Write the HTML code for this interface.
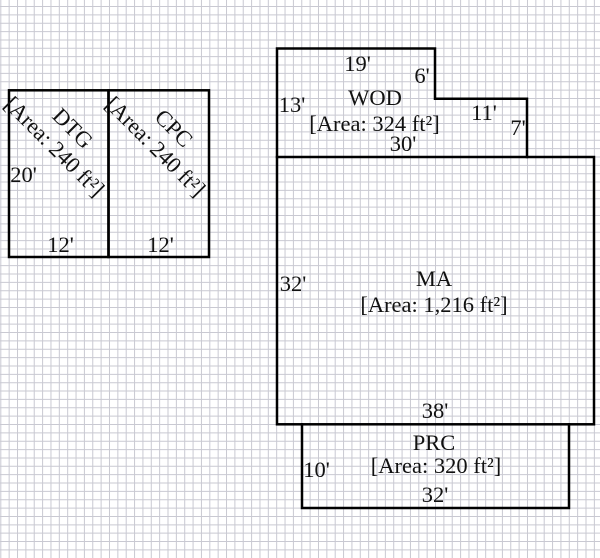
<!DOCTYPE html>
<html><head><meta charset="utf-8"><style>
html,body{margin:0;padding:0;background:#fff;}
svg{display:block;}
text{font-family:"Liberation Serif","DejaVu Serif",serif;font-size:22.5px;fill:#111;}
</style></head><body>
<svg width="600" height="558" viewBox="0 0 600 558" xmlns="http://www.w3.org/2000/svg">
<rect width="600" height="558" fill="#fff"/>
<path fill="none" stroke="#c9c9d2" stroke-width="1" d="M0.8 0V558M9.16 0V558M17.52 0V558M25.88 0V558M34.24 0V558M42.6 0V558M50.96 0V558M59.32 0V558M67.68 0V558M76.04 0V558M84.4 0V558M92.76 0V558M101.12 0V558M109.48 0V558M117.84 0V558M126.2 0V558M134.56 0V558M142.92 0V558M151.28 0V558M159.64 0V558M168 0V558M176.36 0V558M184.72 0V558M193.08 0V558M201.44 0V558M209.8 0V558M218.16 0V558M226.52 0V558M234.88 0V558M243.24 0V558M251.6 0V558M259.96 0V558M268.32 0V558M276.68 0V558M285.04 0V558M293.4 0V558M301.76 0V558M310.12 0V558M318.48 0V558M326.84 0V558M335.2 0V558M343.56 0V558M351.92 0V558M360.28 0V558M368.64 0V558M377 0V558M385.36 0V558M393.72 0V558M402.08 0V558M410.44 0V558M418.8 0V558M427.16 0V558M435.52 0V558M443.88 0V558M452.24 0V558M460.6 0V558M468.96 0V558M477.32 0V558M485.68 0V558M494.04 0V558M502.4 0V558M510.76 0V558M519.12 0V558M527.48 0V558M535.84 0V558M544.2 0V558M552.56 0V558M560.92 0V558M569.28 0V558M577.64 0V558M586 0V558M594.36 0V558
M0 6.5H600M0 14.86H600M0 23.22H600M0 31.58H600M0 39.94H600M0 48.3H600M0 56.66H600M0 65.02H600M0 73.38H600M0 81.74H600M0 90.1H600M0 98.46H600M0 106.82H600M0 115.18H600M0 123.54H600M0 131.9H600M0 140.26H600M0 148.62H600M0 156.98H600M0 165.34H600M0 173.7H600M0 182.06H600M0 190.42H600M0 198.78H600M0 207.14H600M0 215.5H600M0 223.86H600M0 232.22H600M0 240.58H600M0 248.94H600M0 257.3H600M0 265.66H600M0 274.02H600M0 282.38H600M0 290.74H600M0 299.1H600M0 307.46H600M0 315.82H600M0 324.18H600M0 332.54H600M0 340.9H600M0 349.26H600M0 357.62H600M0 365.98H600M0 374.34H600M0 382.7H600M0 391.06H600M0 399.42H600M0 407.78H600M0 416.14H600M0 424.5H600M0 432.86H600M0 441.22H600M0 449.58H600M0 457.94H600M0 466.3H600M0 474.66H600M0 483.02H600M0 491.38H600M0 499.74H600M0 508.1H600M0 516.46H600M0 524.82H600M0 533.18H600M0 541.54H600M0 549.9H600"/>

<g fill="none" stroke="#000" stroke-width="2.5" stroke-linecap="square">
  <rect x="9" y="90.3" width="99.5" height="166.7"/>
  <rect x="108.5" y="90.3" width="100.5" height="166.7"/>
  <path d="M277 157V48.5H435V98.7H527V157"/>
  <rect x="277" y="157" width="317" height="267.3"/>
  <path d="M302 424.3V508H569V424.3"/>
</g>

<!-- DTG / CPC -->
<g transform="translate(64,137) rotate(45)">
  <text x="0" y="-5" text-anchor="middle">DTG</text>
  <text x="0" y="21" text-anchor="middle">[Area: 240 ft²]</text>
</g>
<g transform="translate(165,137) rotate(45)">
  <text x="0" y="-5" text-anchor="middle">CPC</text>
  <text x="0" y="21" text-anchor="middle">[Area: 240 ft²]</text>
</g>
<text x="23.5" y="182" text-anchor="middle">20'</text>
<text x="60.5" y="252" text-anchor="middle">12'</text>
<text x="160.5" y="252" text-anchor="middle">12'</text>

<!-- WOD -->
<text x="357.5" y="71" text-anchor="middle">19'</text>
<text x="422" y="83" text-anchor="middle">6'</text>
<text x="292" y="112" text-anchor="middle">13'</text>
<text x="375" y="105" text-anchor="middle">WOD</text>
<text x="374.5" y="131" text-anchor="middle">[Area: 324 ft²]</text>
<text x="403" y="151" text-anchor="middle">30'</text>
<text x="484" y="120" text-anchor="middle">11'</text>
<text x="518" y="135" text-anchor="middle">7'</text>

<!-- MA -->
<text x="434" y="286" text-anchor="middle">MA</text>
<text x="434" y="312" text-anchor="middle">[Area: 1,216 ft²]</text>
<text x="293" y="291" text-anchor="middle">32'</text>
<text x="435" y="418" text-anchor="middle">38'</text>

<!-- PRC -->
<text x="434" y="450" text-anchor="middle">PRC</text>
<text x="436" y="473" text-anchor="middle">[Area: 320 ft²]</text>
<text x="316.5" y="477" text-anchor="middle">10'</text>
<text x="435" y="502" text-anchor="middle">32'</text>
</svg>
</body></html>
